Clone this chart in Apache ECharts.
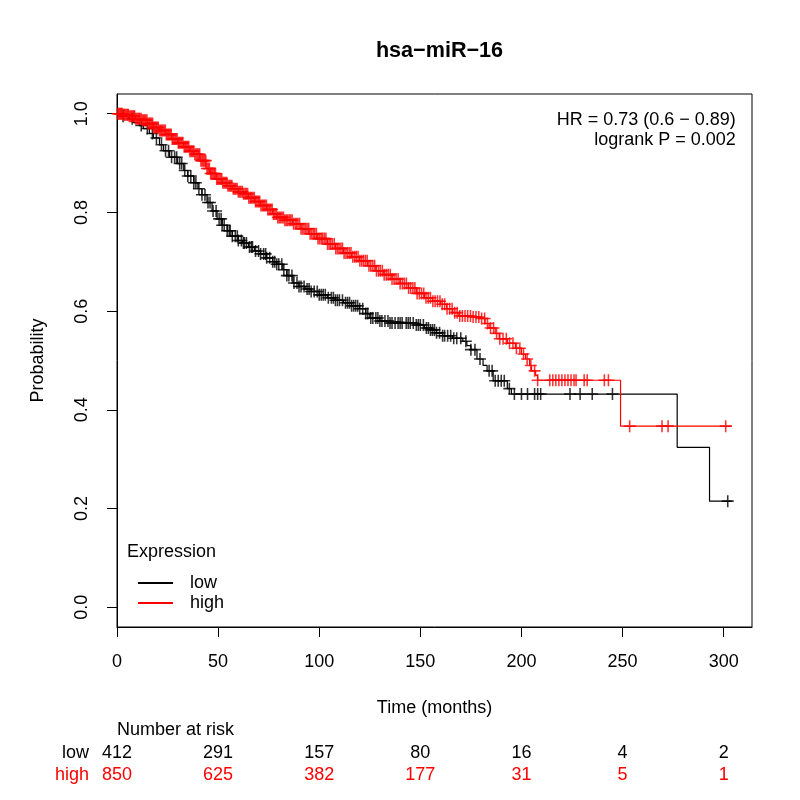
<!DOCTYPE html>
<html><head><meta charset="utf-8">
<script src="https://cdn.jsdelivr.net/npm/echarts@6/dist/echarts.min.js"></script>
<style>html,body{margin:0;padding:0;background:#fff}#c{width:800px;height:800px}</style>
</head><body><div id="c"></div>
<script>
const FONT = "'Liberation Sans', Arial, Helvetica, sans-serif";
const chartTitle = 'hsa\u2212miR\u221216';
const xTicks = [0, 50, 100, 150, 200, 250, 300];
const yTicks = [0, 0.2, 0.4, 0.6, 0.8, 1.0];
const groupNames = ['low', 'high'];
const groupColors = ['#000000', '#FF0000'];

// Kaplan-Meier step points [time, survival]
const lowCurve = [[0,1.0],[3,0.995],[6,0.99],[8,0.982],[11,0.976],[13,0.97],[16,0.96],[18,0.951],[21,0.937],[23,0.925],[26,0.912],[30,0.899],[33,0.885],[35,0.874],[38,0.86],[40,0.848],[42,0.836],[44.5,0.82],[47,0.803],[49.5,0.787],[52,0.774],[54.5,0.763],[57,0.752],[60,0.743],[62,0.738],[65,0.73],[68,0.722],[71,0.716],[74,0.708],[77,0.7],[79,0.695],[82,0.684],[84,0.672],[87,0.657],[90,0.65],[93,0.645],[96,0.64],[100,0.633],[104,0.627],[108,0.622],[112,0.617],[116,0.611],[120,0.605],[123,0.595],[125,0.586],[130,0.58],[135,0.576],[148,0.572],[152,0.566],[155,0.562],[158,0.556],[161,0.55],[166,0.545],[171,0.539],[173,0.53],[175,0.522],[178,0.503],[181,0.49],[183,0.479],[186,0.459],[193,0.443],[195,0.432],[277,0.324],[293,0.215],[304,0.215]];
const highCurve = [[0,1],[3,0.998],[6,0.995],[9,0.99],[12,0.987],[15,0.98],[18,0.972],[21,0.966],[24,0.958],[27,0.949],[30,0.941],[33,0.933],[36,0.924],[38,0.918],[41,0.905],[44,0.889],[46,0.879],[49,0.868],[52,0.86],[54.5,0.854],[57,0.848],[60,0.842],[62.5,0.838],[65,0.83],[68,0.822],[71,0.814],[74,0.806],[77,0.797],[79,0.79],[83,0.784],[87,0.777],[91,0.767],[95,0.757],[99,0.747],[104,0.736],[108,0.727],[112,0.718],[116,0.71],[120,0.702],[124,0.692],[128,0.682],[132,0.674],[136,0.665],[140,0.656],[144,0.647],[148,0.636],[152,0.627],[156,0.62],[160,0.614],[163,0.605],[166,0.597],[169,0.59],[175,0.588],[179,0.585],[182,0.575],[184,0.566],[187,0.555],[189,0.544],[193,0.535],[197,0.525],[200,0.513],[202,0.503],[204,0.49],[205,0.479],[207,0.47],[208,0.46],[249,0.367],[304,0.367]];

// censoring times (dense bands where marks overlap)
const lowCensorTimes = [3,7.5,12,15,17.5,19.5,22,24,25.5,27,28.5,29.5,31,32,33.5,35,36.5,38,39,40.5,42,43.5,45,46,47.5,49,50.5,51.5,52,53,54.5,55.5,56,57,58.5,59.5,60,61.5,62.5,63,64,65.5,66.5,67,68.5,70,71,72.5,73.5,74,75.5,77,78,79,80,81.5,82.5,84,85,86.5,87.5,89,90,91,92.5,94,95,96,97.5,99,100,101,102,103,104.5,106,107,108,109,110,111.5,113,114,115,116,117,118,119,120,121.5,123,124,125.5,126.5,128,129,130,131,132.5,134,135,136,137.5,139,140,141,143,144,145,146.5,148,149,150,151.5,153,154,155,156,157,158,159.5,161,162,163.5,165,166.5,168,170,172.5,175,177,179.5,184,185.5,187,188.5,190,191.5,194,196.5,200,203,206.5,208,209.5,224,229,235,245,302];
const highCensorTimes = [0.3,0.8,1.2,1.7,2.1,2.6,3.2,3.6,4.1,4.7,5.2,5.6,6.1,6.7,7.2,7.8,8.3,8.7,9.2,9.8,10.4,10.9,11.3,11.9,12.5,13.1,13.6,14.2,14.8,15.3,15.9,16.4,17,17.6,18.1,18.7,19.3,19.8,20.4,21,21.6,22.1,22.7,23.3,23.9,24.4,25,25.6,26.2,26.8,27.3,27.9,28.5,29.1,29.7,30.3,30.8,31.4,32,32.6,33.2,33.8,34.3,34.9,35.5,36.1,36.7,37.3,37.9,38.5,39.1,39.7,40.3,40.9,41.5,42.1,42.7,43.3,43.9,44.5,45.1,45.7,46.3,46.9,47.5,48.1,48.7,49.3,49.9,50.5,51.2,51.8,52.4,53,53.7,54.3,54.9,55.6,56.2,56.8,57.5,58.1,58.7,59.4,60,60.7,61.3,62,62.6,63.3,63.9,64.6,65.2,65.9,66.5,67.2,67.9,68.5,69.2,69.9,70.5,71.2,71.9,72.6,73.2,73.9,74.6,75.3,76,76.7,77.4,78.1,78.8,79.5,80.2,80.9,81.6,82.3,83,83.7,84.4,85.2,85.9,86.6,87.3,88.1,88.8,89.5,90.3,91,91.8,92.5,93.3,94,94.8,95.5,96.3,97.1,97.8,98.6,99.4,100.2,101,101.7,102.5,103.3,104.1,104.9,105.7,106.5,107.4,108.2,109,109.8,110.7,111.5,112.3,113.2,114,114.9,115.7,116.6,117.5,118.3,119.2,120.1,121,121.9,122.8,123.7,124.6,125.5,126.5,127.4,128.3,129.3,130.2,131.2,132.1,133.1,134.1,135.1,136,137,138,139,140,141.1,142.1,143.1,144.2,145.2,146.3,147.3,148.4,149.5,150.6,151.7,152.8,153.9,155,156.2,157.3,158.5,159.7,160.8,162,163.2,164.5,165.7,167,168.2,169.5,170.8,172.1,173.4,174.8,176.1,177.5,178.9,180.3,181.8,183.2,184.7,186.2,187.7,189.3,190.9,192.5,194.1,195.8,197.5,199.2,201,202.8,204.6,206.5,208,214,215.5,217,218.5,220,221.5,223,224.5,226,227,231,232.5,241,243,253.5,269.5,272.5,301];

// number at risk
const riskTimes = [0, 50, 100, 150, 200, 250, 300];
const lowRisk = [412, 291, 157, 80, 16, 4, 2];
const highRisk = [850, 625, 382, 177, 31, 5, 1];

const statLines = ['HR = 0.73 (0.6 \u2212 0.89)', 'logrank P = 0.002'];

function survAt(curve, t) {
  let s = curve[0][1];
  for (const p of curve) { if (p[0] <= t) s = p[1]; else break; }
  return s;
}
const plusPath = 'path://M0,4.35H10V5.65H0Z M4.35,0H5.65V10H4.35Z';

const chart = echarts.init(document.getElementById('c'), null, {renderer: 'canvas'});
const option = {
  animation: false,
  backgroundColor: '#ffffff',
  textStyle: {fontFamily: FONT},
  title: {text: chartTitle, left: 434.5, textAlign: 'center', top: 35,
    textStyle: {fontFamily: FONT, fontSize: 21.6, fontWeight: 'bold', color: '#000'}},
  grid: {left: 117, right: 48, top: 94, bottom: 173, show: true, borderColor: '#000', borderWidth: 1, backgroundColor: 'transparent'},
  xAxis: {type: 'value', min: 0, max: 314,
    name: 'Time (months)', nameLocation: 'middle', nameGap: 72,
    nameTextStyle: {fontFamily: FONT, fontSize: 18, color: '#000'},
    axisLine: {show: true, onZero: false, lineStyle: {color: '#000', width: 1}},
    axisTick: {show: true, length: 10, customValues: xTicks, lineStyle: {color: '#000', width: 1}},
    axisLabel: {customValues: xTicks, margin: 26, fontFamily: FONT, fontSize: 18, color: '#000'},
    splitLine: {show: false}},
  yAxis: {type: 'value', min: -0.04, max: 1.04,
    name: 'Probability', nameLocation: 'middle', nameGap: 70,
    nameTextStyle: {fontFamily: FONT, fontSize: 18, color: '#000'},
    axisLine: {show: true, onZero: false, lineStyle: {color: '#000', width: 1}},
    axisTick: {show: true, length: 10, customValues: yTicks, lineStyle: {color: '#000', width: 1}},
    axisLabel: {customValues: yTicks, rotate: 90, margin: 26, fontFamily: FONT, fontSize: 18, color: '#000',
      formatter: v => v.toFixed(1)},
    splitLine: {show: false}},
  legend: {orient: 'vertical', left: 133, top: 569, itemWidth: 35, itemHeight: 2, itemGap: 2, icon: 'rect',
    data: groupNames,
    textStyle: {fontFamily: FONT, fontSize: 18, color: '#000', lineHeight: 16, padding: [0, 0, 0, 12]}},
  series: [
    {name: 'low', type: 'line', step: 'end', data: lowCurve, showSymbol: false, color: groupColors[0],
      lineStyle: {color: groupColors[0], width: 1.2}, z: 3},
    {name: 'high', type: 'line', step: 'end', data: highCurve, showSymbol: false, color: groupColors[1],
      lineStyle: {color: groupColors[1], width: 1.2}, z: 3},
    {name: 'low censored', type: 'scatter', symbol: plusPath, symbolSize: 12,
      itemStyle: {color: groupColors[0]}, data: lowCensorTimes.map(t => [t, survAt(lowCurve, t)]), z: 4},
    {name: 'high censored', type: 'scatter', symbol: plusPath, symbolSize: 12,
      itemStyle: {color: groupColors[1]}, data: highCensorTimes.map(t => [t, survAt(highCurve, t)]), z: 4}
  ]
};
chart.setOption(option);

// texts placed through the axis scale
const gx = t => chart.convertToPixel({xAxisIndex: 0}, t);
const elems = [];
elems.push({type: 'text', x: 127, y: 552, style: {text: 'Expression', fill: '#000', font: '18px ' + FONT, textVerticalAlign: 'middle'}});
const xRight = gx(306);
statLines.forEach((s, i) => elems.push({type: 'text', x: xRight, y: 120 + i * 20,
  style: {text: s, fill: '#000', font: '18px ' + FONT, textAlign: 'right', textVerticalAlign: 'middle'}}));
elems.push({type: 'text', x: gx(0), y: 730, style: {text: 'Number at risk', fill: '#000', font: '18px ' + FONT, textVerticalAlign: 'middle'}});
const rows = [lowRisk, highRisk];
rows.forEach((row, r) => {
  const y = 753 + r * 22;
  elems.push({type: 'text', x: 89, y: y, style: {text: groupNames[r], fill: groupColors[r], font: '18px ' + FONT, textAlign: 'right', textVerticalAlign: 'middle'}});
  row.forEach((v, i) => elems.push({type: 'text', x: gx(riskTimes[i]), y: y,
    style: {text: String(v), fill: groupColors[r], font: '18px ' + FONT, textAlign: 'center', textVerticalAlign: 'middle'}}));
});
chart.setOption({graphic: {elements: elems}});
</script>
</body></html>
